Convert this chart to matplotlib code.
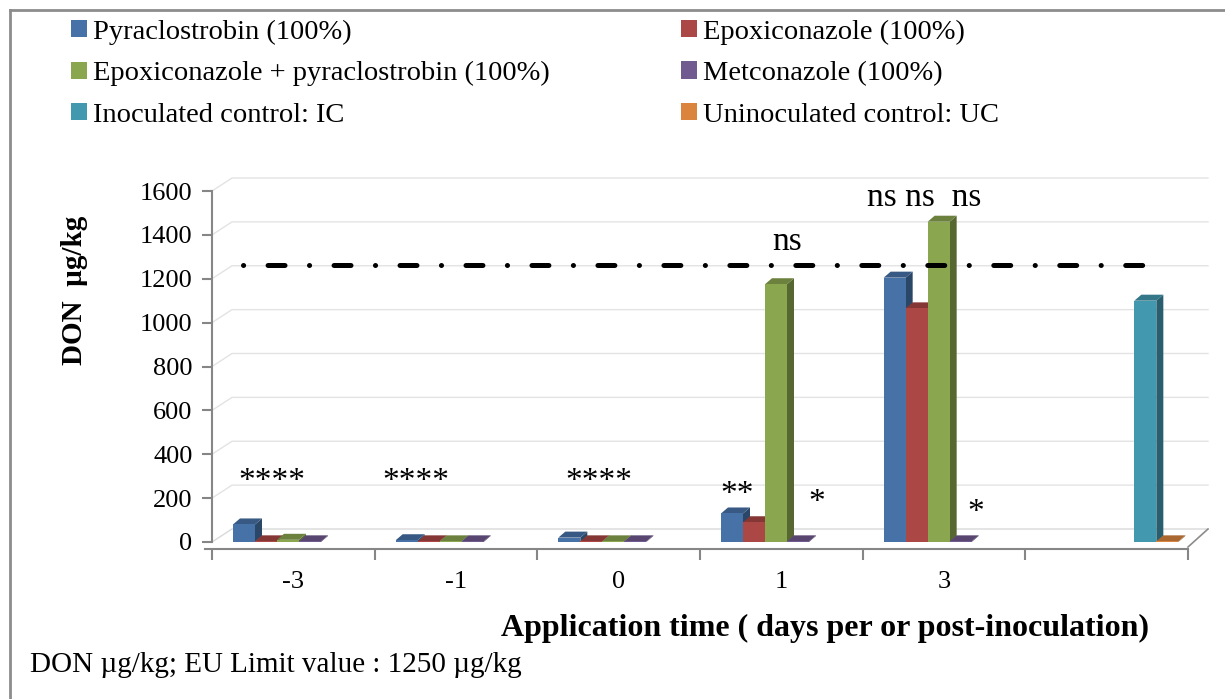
import matplotlib
matplotlib.use("Agg")
import matplotlib.pyplot as plt
import matplotlib.transforms as mtransforms
from matplotlib.patches import Polygon, Rectangle
from matplotlib.lines import Line2D
import numpy as np

plt.rcParams['font.family'] = ['Liberation Serif', 'DejaVu Serif']
plt.rcParams['lines.scale_dashes'] = False

# ---- data ----
categories = ["-3", "-1", "0", "1", "3", ""]
series_names = ["Pyraclostrobin (100%)", "Epoxiconazole (100%)",
                "Epoxiconazole + pyraclostrobin (100%)", "Metconazole (100%)",
                "Inoculated control: IC", "Uninoculated control: UC"]
pyraclostrobin = [80, 8, 20, 130, 1205, 0]
epoxiconazole = [3, 3, 3, 90, 1065, 0]
epoxi_pyra = [10, 3, 3, 1175, 1460, 0]
metconazole = [3, 3, 3, 3, 3, 0]
inoculated_ic = [0, 0, 0, 0, 0, 1100]
uninoculated_uc = [0, 0, 0, 0, 0, 3]
series_values = [pyraclostrobin, epoxiconazole, epoxi_pyra, metconazole,
                 inoculated_ic, uninoculated_uc]
eu_limit = 1250
y_ticks = [0, 200, 400, 600, 800, 1000, 1200, 1400, 1600]

colors = ["#4672A8", "#AB4744", "#8AA64F", "#715A8F", "#4198AF", "#DB843D"]

W, H = 1225, 699
fig = plt.figure(figsize=(W / 100, H / 100), dpi=100)

# axes placement in pixels
x_left, x_right = 212, 1188
y_zero, y_top = 542, 191
ax = fig.add_axes([x_left / W, 1 - y_zero / H, (x_right - x_left) / W, (y_zero - y_top) / H])
ax.set_xlim(-0.5, 5.5)
ax.set_ylim(0, 1600)
ax.patch.set_alpha(0)

px_x = (x_right - x_left) / 6.0          # px per category
px_y = (y_zero - y_top) / 1600.0         # px per unit

# back wall / floor offsets
DX = 20 / px_x
DY = 13 / px_y
grid_c = "#E3E3E3"
for v in y_ticks:
    if v == 0:
        ax.plot([-0.5, -0.5 + DX, 5.5 + DX], [0, DY, DY], color="#D9D9D9", lw=1.0, clip_on=False, zorder=1)
    else:
        ax.plot([-0.5, -0.5 + DX, 5.5 + DX], [v, v + DY, v + DY], color=grid_c, lw=1.0, clip_on=False, zorder=1)
# floor right edge
ax.plot([5.5, 5.5 + DX], [-5 / px_y, DY], color="#8C8C8C", lw=1.2, clip_on=False, zorder=1)

# EU limit line (dash-dot)
lim_line, = ax.plot([-0.31, 5.26], [eu_limit, eu_limit], color="black", lw=3.6,
                    solid_capstyle="round", dash_capstyle="round", zorder=90, clip_on=False)
lim_line.set_dashes((0.1, 17.6, 12.2, 17.6))
lim_line.set_transform(ax.transData + mtransforms.ScaledTranslation(0, 2 / 72, fig.dpi_scale_trans))

# bars with pseudo-3D faces
bw = 22 / px_x
bdx = 7 / px_x
bdy = 6 / px_y
start_off = 21 / px_x


def shade(c, f):
    c = np.array(matplotlib.colors.to_rgb(c))
    return tuple(np.clip(c * f, 0, 1))


handles = []
for ci in range(len(categories)):
    for si, vals in enumerate(series_values):
        h = vals[ci]
        if h <= 0:
            continue
        x0 = ci - 0.5 + start_off + si * bw
        x1 = x0 + bw
        col = colors[si]
        side = Polygon([(x1, 0), (x1 + bdx, bdy), (x1 + bdx, h + bdy), (x1, h)],
                       closed=True, facecolor=shade(col, 0.62), edgecolor="none", zorder=3 + ci * 10 + si)
        top = Polygon([(x0, h), (x0 + bdx, h + bdy), (x1 + bdx, h + bdy), (x1, h)],
                      closed=True, facecolor=shade(col, 0.78), edgecolor="none", zorder=3 + ci * 10 + si)
        ax.add_patch(side)
        ax.add_patch(top)
        ax.bar(x0, h, width=bw, align="edge", color=col, edgecolor="none", zorder=3.5 + ci * 10 + si)

for si in range(len(series_names)):
    handles.append(Rectangle((0, 0), 1, 1, facecolor=colors[si], edgecolor="none"))

# axes styling
axis_c = "#868686"
for s in ["top", "right"]:
    ax.spines[s].set_visible(False)
ax.spines["left"].set_color(axis_c)
ax.spines["left"].set_linewidth(1.5)
ax.spines["bottom"].set_color(axis_c)
ax.spines["bottom"].set_linewidth(1.5)
ax.spines["bottom"].set_position(("outward", 5))
ax.spines["bottom"].set_bounds(-0.5 - 7 / px_x, 5.5)

ax.set_yticks(y_ticks)
ax.set_yticklabels([str(v) for v in y_ticks], fontsize=19)
ax.tick_params(axis="y", direction="out", length=7, width=1.5, color=axis_c, pad=7)

ax.set_xticks(range(len(categories)))
ax.set_xticklabels(categories, fontsize=19)
ax.set_xticks(np.arange(-0.5, 6.0, 1.0), minor=True)
ax.tick_params(axis="x", which="major", length=0, pad=16)
ax.tick_params(axis="x", which="minor", direction="out", length=8, width=1.5, color=axis_c)

ax.set_ylabel("DON  µg/kg", fontsize=21, fontweight="bold")
ax.yaxis.set_label_coords((88 - x_left) / (x_right - x_left), (y_zero - 290) / (y_zero - y_top))

fig.text(825 / W, 1 - 628 / H, "Application time ( days per or post-inoculation)",
         fontsize=23, fontweight="bold", ha="center", va="center")
fig.text(30 / W, 1 - 665 / H, "DON µg/kg; EU Limit value : 1250 µg/kg",
         fontsize=21, ha="left", va="center")

# significance annotations
ann = [(-0.132, 275, "****"), (0.752, 275, "****"), (1.88, 275, "****"),
       (2.727, 216, "**"), (3.218, 179, "*"), (3.034, 1370, "ns"),
       (3.88, 1568, "ns ns  ns"), (4.193, 134, "*")]
for x, y, t in ann:
    ax.text(x, y, t, fontsize=24, ha="center", va="center", zorder=100)

# legend
order = [0, 2, 4, 1, 3, 5]
leg = fig.legend([handles[i] for i in order], [series_names[i] for i in order],
                 ncol=2, loc="upper left", bbox_to_anchor=(60 / W, 1 - 8 / H),
                 frameon=False, fontsize=20.5, handlelength=0.55, handleheight=0.55,
                 handletextpad=0.22, columnspacing=4.6, labelspacing=0.58,
                 borderaxespad=0.0)

# chart frame (top and left border)
fig.add_artist(Line2D([10 / W, 10 / W], [0, 1 - 10 / H], color="#8C8C8C", lw=2.0, transform=fig.transFigure))
fig.add_artist(Line2D([10 / W, 1], [1 - 10 / H, 1 - 10 / H], color="#8C8C8C", lw=2.0, transform=fig.transFigure))

fig.savefig("out.png", dpi=100)
